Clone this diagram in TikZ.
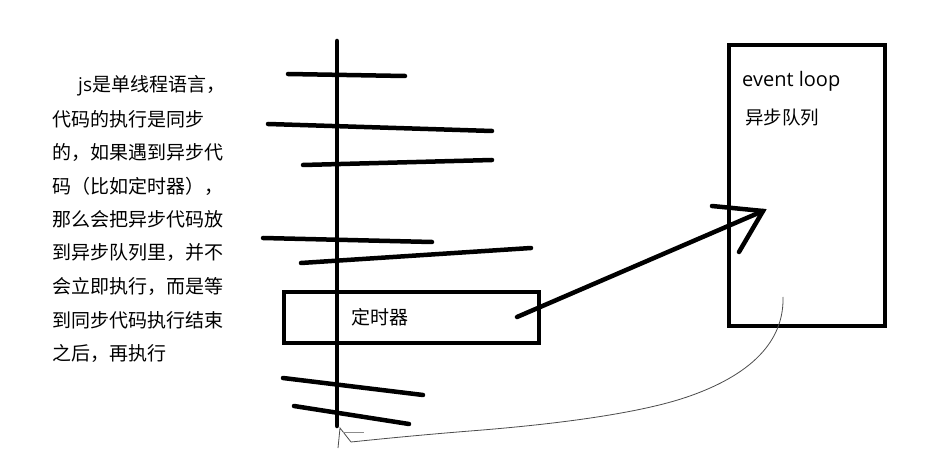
\documentclass[tikz,border=0pt]{standalone}
\usepackage{fontspec}
\setmainfont{Noto Sans CJK SC}
\newfontfamily\latin{Open Sans}
\begin{document}
\begin{tikzpicture}[x=1pt,y=-1pt,
  stroke/.style={line width=4.5pt, line cap=round},
  box/.style={draw, line width=4pt, inner sep=0pt},
  thin/.style={line width=0.8pt, black!70},
  txt/.style={font=\fontsize{19}{20}\selectfont, inner sep=0pt, anchor=west, text=black}]
\path[use as bounding box, fill=white] (0,0) rectangle (927,457);
% left text
\node[txt] (l1) at (78,86) {{\latin js}是单线程语言，};
\node[txt] (l2) at (52,119.4) {代码的执行是同步};
\node[txt] (l3) at (52,152.8) {的，如果遇到异步代};
\node[txt] (l4) at (52,186.2) {码（比如定时器），};
\node[txt] (l5) at (52,219.6) {那么会把异步代码放};
\node[txt] (l6) at (52,253) {到异步队列里，并不};
\node[txt] (l7) at (52,286.4) {会立即执行，而是等};
\node[txt] (l8) at (52,319.8) {到同步代码执行结束};
\node[txt] (l9) at (52,353.2) {之后，再执行};
% call stack
\coordinate (stop) at (337,41);
\coordinate (sbot) at (337,426);
\draw[stroke] (stop) -- (sbot);
\draw[stroke] (288,74) -- (405,76);
\draw[stroke] (268,124) -- (492,131);
\draw[stroke] (303,165) -- (492,160);
\draw[stroke] (263,238) -- (432,242);
\draw[stroke] (301,263) -- (531,248);
\draw[stroke] (283,378) -- (423,395);
\draw[stroke] (294,406) -- (409,424);
% timer box
\node[box, minimum width=255pt, minimum height=51pt] (timer) at (411.5,317.5) {};
\node[txt] (timerlabel) at (351,317) {定时器};
% event loop box
\node[box, minimum width=156pt, minimum height=281pt] (loop) at (807,185.5) {};
\node[txt, font=\latin\fontsize{20}{21}\selectfont] (evl) at (742,81) {event loop};
\node[txt, font=\fontsize{18.5}{20}\selectfont] (queue) at (745,118) {异步队列};
% arrow
\coordinate (a0) at (517,317);
\coordinate (a1) at (763,211);
\coordinate (w1) at (712,206);
\coordinate (w2) at (739,252);
\draw[stroke] (a0) -- (a1);
\draw[stroke] (w1) -- (a1) -- (w2);
% return curve
\coordinate (c0) at (783,297);
\coordinate (c1) at (351,442);
\draw[thin] (c0) .. controls (784,335) and (760,372) .. (687,397)
  .. controls (640,413) and (560,424) .. (470,431)
  .. controls (420,435) and (380,439) .. (c1);
\draw[thin] (c1) -- (340,428) -- (338,448);
\draw[thin, black!45] (343,432) -- (364,432);
\end{tikzpicture}
\end{document}
